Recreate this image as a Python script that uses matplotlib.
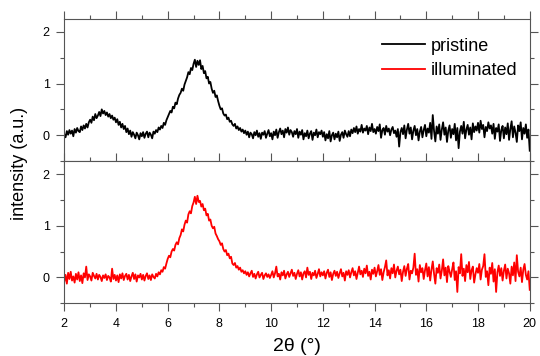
import numpy as np
import matplotlib
matplotlib.use('Agg')
import matplotlib.pyplot as plt
from matplotlib.ticker import MultipleLocator

plt.rcParams['font.family'] = ['Liberation Sans', 'DejaVu Sans']

# 2theta grid, 0.05 deg step from 2 to 20
two_theta = np.linspace(2, 20, 361)

# values, one row per degree (20 points each) + end point
pristine = [
    0.02, -0.04, 0.08, 0.01, 0.10, 0.03, 0.09, -0.02, 0.12, 0.05, 0.14, 0.08, 0.06, 0.17, 0.10, 0.19, 0.13, 0.22, 0.15, 0.25,
    0.30, 0.24, 0.36, 0.29, 0.41, 0.33, 0.38, 0.45, 0.37, 0.50, 0.42, 0.47, 0.39, 0.44, 0.36, 0.41, 0.33, 0.38, 0.30, 0.34,
    0.25, 0.31, 0.20, 0.26, 0.15, 0.22, 0.12, 0.18, 0.06, 0.13, 0.02, 0.09, -0.03, 0.06, 0.01, -0.06, 0.05, 0.00, -0.08, 0.04,
    -0.02, 0.06, -0.05, 0.03, 0.07, -0.04, 0.05, 0.01, -0.06, 0.07, 0.03, 0.10, 0.06, 0.15, 0.11, 0.18, 0.14, 0.24, 0.20, 0.29,
    0.35, 0.41, 0.47, 0.44, 0.55, 0.52, 0.63, 0.60, 0.71, 0.78, 0.82, 0.90, 0.86, 0.98, 1.05, 1.12, 1.22, 1.18, 1.30, 1.26,
    1.38, 1.46, 1.32, 1.44, 1.36, 1.45, 1.28, 1.34, 1.20, 1.24, 1.10, 1.13, 1.00, 1.03, 0.90, 0.82, 0.86, 0.74, 0.77, 0.66,
    0.57, 0.50, 0.52, 0.42, 0.38, 0.40, 0.31, 0.34, 0.26, 0.28, 0.21, 0.18, 0.22, 0.13, 0.17, 0.10, 0.14, 0.07, 0.11, 0.04,
    0.09, 0.01, 0.07, -0.04, 0.05, 0.02, -0.06, 0.06, 0.00, 0.09, -0.03, 0.04, -0.07, 0.05, 0.01, 0.08, -0.05, 0.03, 0.10, -0.02,
    0.04, -0.08, 0.07, 0.00, 0.11, -0.05, 0.06, 0.13, 0.02, 0.09, -0.04, 0.12, 0.05, 0.15, 0.01, 0.10, 0.06, -0.03, 0.08, 0.02,
    0.12, -0.05, 0.07, 0.01, 0.10, -0.08, 0.04, -0.02, 0.09, -0.06, 0.03, 0.08, -0.09, 0.05, 0.00, 0.11, -0.04, 0.06, 0.02, 0.09,
    -0.03, 0.06, -0.10, 0.02, -0.06, 0.08, -0.12, 0.00, 0.05, -0.08, 0.03, -0.04, 0.07, -0.11, 0.01, 0.06, -0.05, 0.09, 0.02, -0.03,
    0.08, -0.02, 0.11, 0.04, 0.14, 0.06, 0.17, 0.03, 0.12, 0.07, 0.20, 0.05, 0.13, 0.09, 0.18, 0.02, 0.15, 0.08, 0.22, 0.06,
    0.12, 0.03, 0.16, 0.08, 0.21, -0.05, 0.10, 0.14, 0.01, 0.18, 0.07, 0.13, 0.00, 0.11, 0.16, 0.04, 0.09, -0.03, 0.12, -0.22,
    0.06, 0.14, 0.02, 0.19, -0.06, 0.11, 0.22, 0.03, 0.15, -0.08, 0.09, 0.18, 0.00, 0.12, -0.10, 0.07, 0.16, -0.04, 0.10, 0.20,
    -0.02, 0.13, 0.05, 0.24, -0.07, 0.39, 0.08, -0.12, 0.17, 0.03, 0.21, -0.09, 0.11, 0.25, 0.01, 0.15, -0.13, 0.09, 0.19, -0.05,
    0.12, 0.02, 0.22, -0.10, 0.14, -0.25, 0.07, 0.18, 0.03, 0.26, -0.06, 0.11, 0.20, 0.01, 0.15, -0.08, 0.23, 0.06, 0.17, 0.09,
    0.24, 0.05, 0.28, 0.12, 0.20, -0.04, 0.16, 0.08, 0.25, 0.13, 0.19, 0.03, 0.22, -0.07, 0.14, 0.07, 0.21, -0.11, 0.10, 0.18,
    -0.06, 0.15, 0.02, 0.23, -0.09, 0.12, 0.27, -0.04, 0.17, 0.05, -0.13, 0.19, 0.08, 0.25, -0.08, 0.14, 0.03, 0.21, -0.05, 0.11,
    -0.30,
]

illuminated = [
    -0.08, 0.05, -0.12, 0.09, -0.03, 0.11, -0.06, 0.02, -0.10, 0.07, -0.04, 0.10, -0.07, 0.04, -0.11, 0.08, 0.00, 0.21, -0.05, 0.06,
    0.02, -0.06, 0.09, 0.03, -0.02, 0.07, -0.04, 0.05, 0.01, -0.07, 0.04, -0.01, 0.06, -0.05, 0.03, 0.00, -0.08, 0.17, -0.03, 0.05,
    -0.06, 0.04, -0.09, 0.06, -0.02, 0.08, -0.05, 0.03, 0.07, -0.04, 0.05, -0.07, 0.02, 0.09, -0.03, 0.06, -0.08, 0.04, 0.00, 0.07,
    -0.04, 0.05, -0.06, 0.03, 0.08, -0.03, 0.04, -0.05, 0.06, 0.01, -0.02, 0.07, 0.02, 0.10, 0.06, 0.14, 0.11, 0.20, 0.17, 0.27,
    0.36, 0.42, 0.39, 0.50, 0.55, 0.52, 0.63, 0.68, 0.64, 0.76, 0.82, 0.93, 0.89, 1.02, 1.10, 1.06, 1.22, 1.28, 1.24, 1.38,
    1.45, 1.56, 1.42, 1.58, 1.46, 1.48, 1.37, 1.42, 1.30, 1.33, 1.20, 1.23, 1.10, 1.12, 1.00, 0.95, 0.98, 0.85, 0.80, 0.74,
    0.70, 0.63, 0.66, 0.55, 0.50, 0.53, 0.43, 0.46, 0.37, 0.40, 0.27, 0.24, 0.28, 0.19, 0.22, 0.15, 0.19, 0.11, 0.14, 0.08,
    0.12, 0.05, 0.10, 0.02, 0.08, 0.13, 0.01, 0.07, -0.02, 0.06, 0.11, 0.00, 0.05, 0.09, -0.03, 0.04, 0.08, 0.01, 0.06, -0.01,
    0.05, 0.12, 0.00, 0.08, 0.21, 0.02, 0.07, -0.04, 0.10, 0.04, 0.13, -0.02, 0.06, 0.11, 0.01, 0.08, 0.15, 0.03, 0.09, -0.03,
    0.07, 0.14, 0.02, 0.10, -0.04, 0.08, 0.12, 0.00, 0.19, 0.05, 0.11, -0.03, 0.09, 0.04, 0.13, -0.01, 0.07, 0.16, 0.02, 0.10,
    0.04, 0.12, -0.02, 0.09, 0.15, 0.01, 0.10, -0.05, 0.07, 0.13, 0.03, 0.11, -0.01, 0.08, 0.16, 0.02, 0.09, -0.06, 0.12, 0.05,
    0.14, 0.00, 0.10, 0.18, 0.04, 0.12, -0.03, 0.09, 0.21, 0.06, 0.13, 0.01, 0.17, 0.08, 0.23, 0.03, 0.11, -0.04, 0.15, 0.07,
    0.19, 0.02, 0.12, 0.24, 0.05, 0.16, -0.05, 0.10, 0.20, 0.33, 0.04, 0.14, -0.02, 0.18, 0.08, 0.25, 0.00, 0.13, 0.21, 0.06,
    0.15, -0.07, 0.11, 0.22, 0.03, 0.17, 0.26, -0.04, 0.13, 0.08, 0.19, 0.46, 0.05, 0.16, -0.08, 0.24, 0.10, 0.18, -0.03, 0.14,
    0.27, 0.02, 0.20, -0.06, 0.15, 0.31, 0.07, -0.12, 0.18, 0.09, 0.25, -0.02, 0.13, 0.35, 0.04, 0.19, -0.09, 0.22, 0.11, 0.01,
    0.16, 0.29, -0.05, 0.12, -0.28, 0.20, 0.08, 0.45, 0.03, 0.17, -0.07, 0.24, 0.10, 0.30, -0.03, 0.14, 0.21, -0.10, 0.06, 0.18,
    0.09, 0.26, -0.04, 0.15, 0.22, 0.45, 0.01, 0.12, -0.15, 0.19, 0.07, 0.28, -0.08, 0.16, -0.28, 0.10, 0.23, 0.03, 0.18, -0.06,
    0.13, 0.25, -0.02, 0.17, 0.08, -0.12, 0.21, 0.04, 0.29, -0.07, 0.43, 0.11, 0.02, 0.19, -0.09, 0.15, 0.26, 0.05, -0.04, 0.12,
    -0.24,
]

labels = ['pristine', 'illuminated']
colors = ['black', '#ff0000']

fig, (ax1, ax2) = plt.subplots(2, 1, figsize=(5.4, 3.56), dpi=100, sharex=True)
fig.subplots_adjust(left=0.119, right=0.981, top=0.947, bottom=0.148, hspace=0)

l1, = ax1.plot(two_theta, pristine, color=colors[0], lw=1.3, label=labels[0])
l2, = ax2.plot(two_theta, illuminated, color=colors[1], lw=1.3, label=labels[1])

for ax in (ax1, ax2):
    ax.set_xlim(2, 20)
    ax.set_ylim(-0.5, 2.25)
    ax.set_yticks([0, 1, 2])
    ax.yaxis.set_minor_locator(MultipleLocator(0.5))
    ax.xaxis.set_major_locator(MultipleLocator(2))
    ax.xaxis.set_minor_locator(MultipleLocator(1))
    ax.tick_params(which='both', direction='out', top=True, right=True,
                   color='#555555', labelsize=9, pad=5)
    ax.tick_params(which='major', length=5.5, width=0.8)
    ax.tick_params(which='minor', length=3, width=0.8)
    for s in ax.spines.values():
        s.set_color('#555555')
        s.set_linewidth(0.8)

ax1.tick_params(labelbottom=False)
ax2.set_xlabel('2θ (°)', fontsize=14, labelpad=6)
fig.text(0.036, 0.542, 'intensity (a.u.)', rotation=90, fontsize=13,
         ha='center', va='center')

ax1.legend([l1, l2], labels, loc='upper left', bbox_to_anchor=(0.683, 0.867),
           frameon=False, fontsize=13, handlelength=2.35, handletextpad=0.35,
           labelspacing=0.42, borderaxespad=0, borderpad=0)

fig.savefig('out.png', dpi=100)
